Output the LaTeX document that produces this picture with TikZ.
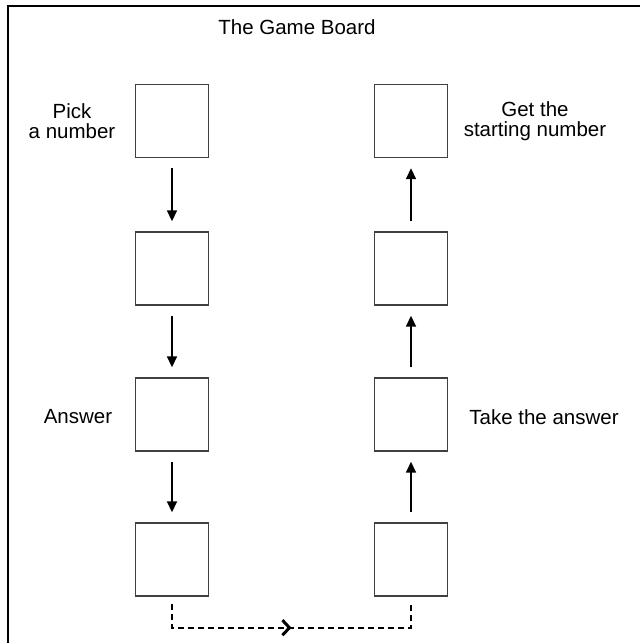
\documentclass[tikz,border=0pt]{standalone}
\usepackage{fontspec}
\setmainfont{Liberation Sans}
\usetikzlibrary{arrows.meta,decorations.markings}
\begin{document}
\begin{tikzpicture}[x=1pt,y=-1pt,
  cell/.style={draw=black!75,line width=1.4pt,minimum size=73pt,inner sep=0pt},
  lbl/.style={font=\fontsize{20.5}{20}\selectfont,align=center,inner sep=0pt},
  flow/.style={line width=1.7pt,-{Triangle[length=11pt,width=10pt]},shorten >=10pt,shorten <=10pt},
  back/.style={line width=1.7pt,dash pattern=on 6pt off 4pt,
    postaction={decorate},
    decoration={markings,mark=at position 0.5 with {\arrow[line width=3pt]{Straight Barb[length=7pt,width=15pt]}}}}
]
\useasboundingbox (0,0) rectangle (640,643);
\draw[line width=2pt] (8,643) -- (8,6) -- (640,6);
\node[lbl] (title) at (297,27) {The Game Board};
\node[cell] (a1) at (172,121) {};
\node[cell] (a2) at (172,268.5) {};
\node[cell] (a3) at (172,414.5) {};
\node[cell] (a4) at (172,559.5) {};
\node[cell] (b1) at (411,121) {};
\node[cell] (b2) at (411,268.5) {};
\node[cell] (b3) at (411,414.5) {};
\node[cell] (b4) at (411,559.5) {};
\node[lbl] (t1) at (72,121) {Pick\\a number};
\node[lbl] (t2) at (535,121) {Get the\\starting number};
\node[lbl] (t3) at (78,417) {Answer};
\node[lbl] (t4) at (544,417) {Take the answer};
\draw[flow] (a1) -- (a2);
\draw[flow] (a2) -- (a3);
\draw[flow] (a3) -- (a4);
\draw[flow] (b4) -- (b3);
\draw[flow] (b3) -- (b2);
\draw[flow] (b2) -- (b1);
\coordinate (c1) at ([yshift=-31pt]a4.south);
\coordinate (c2) at ([yshift=-31pt]b4.south);
\draw[back] ([yshift=-7pt]a4.south) -- (c1) -- (c2) -- ([yshift=-7pt]b4.south);
\end{tikzpicture}
\end{document}
